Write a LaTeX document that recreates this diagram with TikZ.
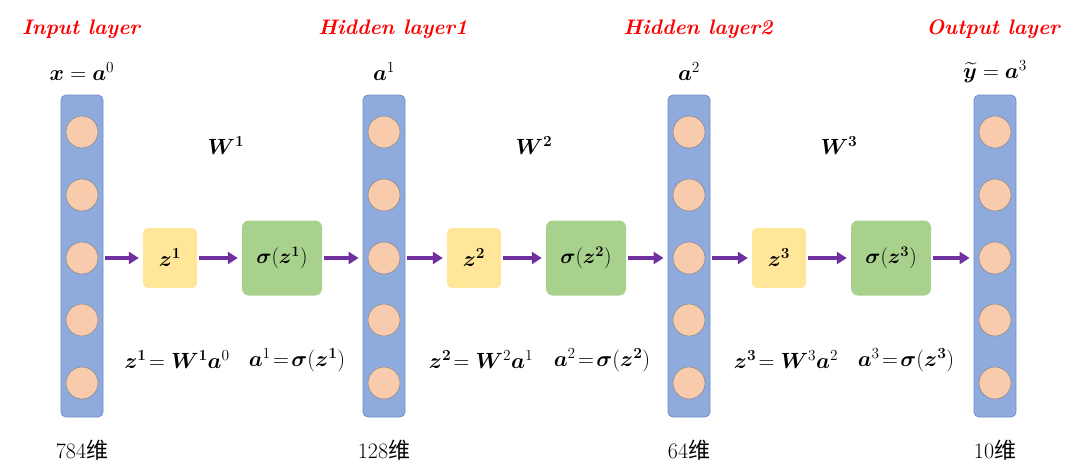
\RequirePackage{fix-cm}
\documentclass[tikz,border=0pt]{standalone}
\usepackage{amsmath,bm}
\usepackage{fontspec}
\newfontfamily\cjk{Noto Sans CJK SC}
\usetikzlibrary{arrows.meta}
\definecolor{barblue}{HTML}{8FAADC}
\definecolor{barline}{HTML}{6F8FC6}
\definecolor{peach}{HTML}{F8CBAD}
\definecolor{peachline}{HTML}{8C8C8C}
\definecolor{ybox}{HTML}{FFE699}
\definecolor{gbox}{HTML}{A9D18E}
\definecolor{arrpurple}{HTML}{7030A0}
\tikzset{
  bar/.style={draw=barline, fill=barblue, line width=0.8pt, rounded corners=5pt, minimum width=42pt, minimum height=322pt, inner sep=0pt},
  neuron/.style={circle, draw=peachline, fill=peach, line width=0.6pt, minimum size=32pt, inner sep=0pt},
  zbox/.style={fill=ybox, rounded corners=5pt, minimum width=54pt, minimum height=60pt, inner sep=0pt, font=\fontsize{22}{26}\selectfont},
  sbox/.style={fill=gbox, rounded corners=7pt, minimum width=80pt, minimum height=75pt, inner sep=0pt, font=\fontsize{21}{25}\selectfont},
  arr/.style={draw=arrpurple, line width=3.2pt, -{Triangle[length=10pt,width=12pt]}, shorten <=2pt, shorten >=4pt},
  title/.style={text=red, font=\fontsize{21}{25}\selectfont\bfseries\itshape},
  mlab/.style={font=\fontsize{22}{26}\selectfont},
  eq/.style={font=\fontsize{22}{26}\selectfont},
  dim/.style={font=\fontsize{22}{26}\selectfont},
}
\begin{document}
\begin{tikzpicture}[x=1pt,y=-1pt]
\useasboundingbox (0,0) rectangle (1080,475);
% layers
\foreach \i/\x in {0/82,1/384,2/689,3/995}{
  \node[bar] (L\i) at (\x,256) {};
  \foreach \j/\y in {1/132,2/195,3/258,4/320,5/383}{
    \node[neuron] (L\i c\j) at (\x,\y) {};
  }
}
% titles
\node[title] (T0) at (81,29) {Input layer};
\node[title] (T1) at (393,29) {Hidden layer1};
\node[title] (T2) at (698,29) {Hidden layer2};
\node[title] (T3) at (993,29) {Output layer};
% layer labels
\node[mlab] (A0) at (82,72) {$\bm{x}=\bm{a}^{0}$};
\node[mlab] (A1) at (384,72) {$\bm{a}^{1}$};
\node[mlab] (A2) at (689,72) {$\bm{a}^{2}$};
\node[mlab] (A3) at (995,72) {$\widetilde{\bm{y}}=\bm{a}^{3}$};
% weights
\node[mlab] (W1) at (226,146) {$\bm{W}^{\bm{1}}$};
\node[mlab] (W2) at (534,146) {$\bm{W}^{\bm{2}}$};
\node[mlab] (W3) at (839,146) {$\bm{W}^{\bm{3}}$};
% boxes
\node[zbox] (Z1) at (170,258) {$\bm{z}^{\bm{1}}$};
\node[sbox] (S1) at (282,258) {$\bm{\sigma}(\bm{z}^{\bm{1}})$};
\node[zbox] (Z2) at (474,258) {$\bm{z}^{\bm{2}}$};
\node[sbox] (S2) at (586,258) {$\bm{\sigma}(\bm{z}^{\bm{2}})$};
\node[zbox] (Z3) at (779,258) {$\bm{z}^{\bm{3}}$};
\node[sbox] (S3) at (891,258) {$\bm{\sigma}(\bm{z}^{\bm{3}})$};
% arrows
\draw[arr] (L0.east |- Z1.west) -- (Z1.west);
\draw[arr] (Z1.east) -- (S1.west);
\draw[arr] (S1.east) -- (L1.west |- S1.east);
\draw[arr] (L1.east |- Z2.west) -- (Z2.west);
\draw[arr] (Z2.east) -- (S2.west);
\draw[arr] (S2.east) -- (L2.west |- S2.east);
\draw[arr] (L2.east |- Z3.west) -- (Z3.west);
\draw[arr] (Z3.east) -- (S3.west);
\draw[arr] (S3.east) -- (L3.west |- S3.east);
% equations
\node[eq] (E1a) at (177,360) {$\bm{z}^{\bm{1}}\!=\bm{W}^{\bm{1}}\bm{a}^{0}$};
\node[eq] (E1b) at (297,360) {$\bm{a}^{1}\!=\!\bm{\sigma}(\bm{z}^{\bm{1}})$};
\node[eq] (E2a) at (481,360) {$\bm{z}^{\bm{2}}\!=\bm{W}^{2}\bm{a}^{1}$};
\node[eq] (E2b) at (602,360) {$\bm{a}^{2}\!=\!\bm{\sigma}(\bm{z}^{\bm{2}})$};
\node[eq] (E3a) at (786,360) {$\bm{z}^{\bm{3}}\!=\bm{W}^{3}\bm{a}^{2}$};
\node[eq] (E3b) at (906,360) {$\bm{a}^{3}\!=\!\bm{\sigma}(\bm{z}^{\bm{3}})$};
% dims
\node[dim] (D0) at (82,450) {784{\cjk 维}};
\node[dim] (D1) at (384,450) {128{\cjk 维}};
\node[dim] (D2) at (689,450) {64{\cjk 维}};
\node[dim] (D3) at (995,450) {10{\cjk 维}};
\end{tikzpicture}
\end{document}
